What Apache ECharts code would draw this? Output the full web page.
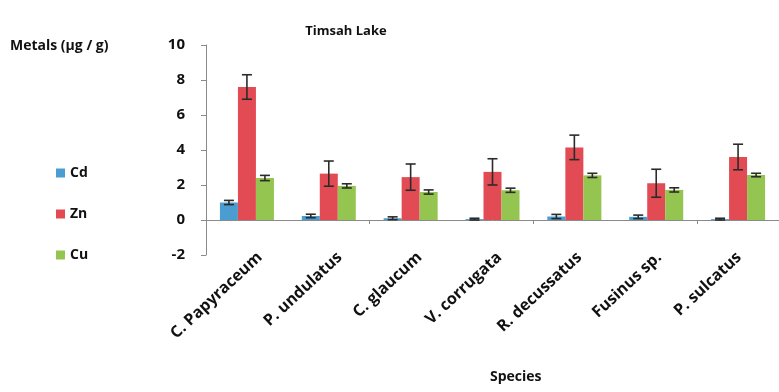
<!DOCTYPE html>
<html><head><meta charset="utf-8">
<script src="https://cdn.jsdelivr.net/npm/echarts@6/dist/echarts.min.js"></script>
<style>html,body{margin:0;padding:0;background:#fff}#c{width:779px;height:392px}</style>
</head><body><div id="c"></div>
<script>
const categories = ['C. Papyraceum','P. undulatus','C. glaucum','V. corrugata','R. decussatus','Fusinus sp.','P. sulcatus'];
const cd = [1.0, 0.23, 0.1, 0.05, 0.2, 0.18, 0.05];
const zn = [7.6, 2.65, 2.45, 2.75, 4.15, 2.1, 3.6];
const cu = [2.4, 1.95, 1.6, 1.7, 2.55, 1.72, 2.57];
const cdErr = [0.12, 0.1, 0.08, 0.05, 0.12, 0.1, 0.05];
const znErr = [0.7, 0.72, 0.75, 0.75, 0.7, 0.8, 0.73];
const cuErr = [0.15, 0.12, 0.12, 0.12, 0.12, 0.12, 0.1];
const yTicks = [-2, 0, 2, 4, 6, 8, 10];

const FONT = 'Open Sans';
const GAP = 0.34;
function errSeries(vals, errs, idx) {
  return {
    type: 'custom', xAxisIndex: 0, yAxisIndex: 0, z: 10, silent: true,
    data: vals.map((v, i) => [i, v, errs[i]]),
    renderItem: function (params, api) {
      const i = api.value(0), v = api.value(1), e = api.value(2);
      const catW = api.size([1, 0])[0];
      const bw = catW * (1 - GAP) / 3;
      const c = api.coord([i, v]);
      const x = c[0] + (idx - 1) * bw;
      const top = api.coord([i, v + e])[1];
      const bot = api.coord([i, v - e])[1];
      const hw = 5;
      const st = { stroke: '#2b2b2b', lineWidth: 1.6 };
      return { type: 'group', children: [
        { type: 'line', shape: { x1: x, y1: top, x2: x, y2: bot }, style: st },
        { type: 'line', shape: { x1: x - hw, y1: top, x2: x + hw, y2: top }, style: st },
        { type: 'line', shape: { x1: x - hw, y1: bot, x2: x + hw, y2: bot }, style: st }
      ]};
    }
  };
}
const chart = echarts.init(document.getElementById('c'));
chart.setOption({
  backgroundColor: '#fff',
  animation: false,
  textStyle: { fontFamily: FONT },
  title: { text: 'Timsah Lake', left: 341, top: 20, textAlign: 'center',
    textStyle: { fontFamily: FONT, fontWeight: 'bold', fontSize: 13, color: '#111' } },
  graphic: [
    { type: 'text', left: 10, top: 39, style: { text: 'Metals (µg / g)', font: 'bold 14px "Open Sans"', fill: '#111' } },
    { type: 'text', left: 490, top: 370, style: { text: 'Species', font: 'bold 14px "Open Sans"', fill: '#111', textAlign: 'center' } }
  ],
  legend: {
    orient: 'vertical', left: 51, top: 161, itemGap: 27, itemWidth: 9, itemHeight: 9,
    icon: 'rect', data: ['Cd', 'Zn', 'Cu'],
    textStyle: { fontFamily: FONT, fontWeight: 'bold', fontSize: 14, color: '#111' }
  },
  grid: [
    { left: 206, right: -11, top: 45, bottom: 137, containLabel: false },
    { left: 220, right: -25, top: 45, bottom: 137, containLabel: false }
  ],
  xAxis: [
    { type: 'category', data: categories, gridIndex: 0, position: 'bottom',
      axisLine: { show: true, onZero: true, lineStyle: { color: '#8a8a8a', width: 1 } },
      axisTick: { show: true, length: 4, lineStyle: { color: '#8a8a8a' } },
      axisLabel: { show: false } },
    { type: 'category', data: categories, gridIndex: 1, position: 'bottom',
      axisLine: { show: false, onZero: false }, axisTick: { show: false },
      axisLabel: { rotate: 43, margin: 0, interval: 0, fontFamily: FONT, fontWeight: 'bold', fontSize: 16, color: '#111' } }
  ],
  yAxis: [
    { type: 'value', gridIndex: 0, min: -2, max: 10, interval: 2,
      axisLine: { show: true, lineStyle: { color: '#8a8a8a' } },
      axisTick: { show: true, length: 5, lineStyle: { color: '#8a8a8a' } },
      splitLine: { show: false },
      axisLabel: { margin: 21, fontFamily: FONT, fontWeight: 'bold', fontSize: 15, color: '#111',
        formatter: v => yTicks.includes(v) ? String(v) : '' } },
    { type: 'value', gridIndex: 1, min: -2, max: 10, interval: 2, show: false }
  ],
  series: [
    { name: 'Cd', type: 'bar', data: cd, barGap: '0%', barCategoryGap: (GAP * 100) + '%',
      itemStyle: { color: '#4a9dd0' } },
    { name: 'Zn', type: 'bar', data: zn, barGap: '0%', barCategoryGap: (GAP * 100) + '%',
      itemStyle: { color: '#e24b53' } },
    { name: 'Cu', type: 'bar', data: cu, barGap: '0%', barCategoryGap: (GAP * 100) + '%',
      itemStyle: { color: '#95c551' } },
    errSeries(cd, cdErr, 0),
    errSeries(zn, znErr, 1),
    errSeries(cu, cuErr, 2)
  ]
});
</script></body></html>
